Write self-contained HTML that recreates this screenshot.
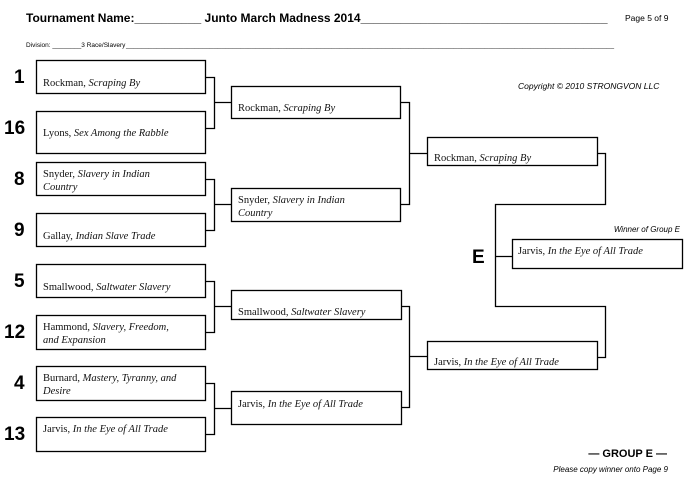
<!DOCTYPE html>
<html><head><meta charset="utf-8"><style>
body{margin:0;background:#fff;}
svg{display:block}
.t{font-family:"Liberation Serif",serif;font-size:10.5px;fill:#111}
.i{font-style:italic}
.s{font-family:"Liberation Sans",sans-serif;font-weight:bold;font-size:19px;fill:#000}
.h{font-family:"Liberation Sans",sans-serif;}
</style></head><body>
<svg width="697" height="489" viewBox="0 0 697 489" xmlns="http://www.w3.org/2000/svg">
<rect width="697" height="489" fill="#fff"/>
<text class="h" x="26" y="22" font-size="12" font-weight="bold">Tournament Name:__________ Junto March Madness 2014_____________________________________</text>
<text class="h" x="625" y="21" font-size="8.5">Page 5 of 9</text>
<text class="h" x="26" y="47" font-size="6.5">Division: ________3 Race/Slavery</text>
<text class="h" x="126" y="47" font-size="6.5" textLength="488" lengthAdjust="spacingAndGlyphs">________________________________________________________________________________________________________________________________</text>
<text class="h" x="518" y="89" font-size="8.5" font-style="italic">Copyright © 2010 STRONGVON LLC</text>
<g fill="none" stroke="#000" stroke-width="1.3">
<rect x="36.5" y="60.5" width="169" height="33"/>
<rect x="36.5" y="111.5" width="169" height="42"/>
<rect x="36.5" y="162.5" width="169" height="33"/>
<rect x="36.5" y="213.5" width="169" height="33"/>
<rect x="36.5" y="264.5" width="169" height="33"/>
<rect x="36.5" y="315.5" width="169" height="34"/>
<rect x="36.5" y="366.5" width="169" height="34"/>
<rect x="36.5" y="417.5" width="169" height="34"/>
<rect x="231.5" y="86.5" width="169" height="32"/>
<rect x="231.5" y="188.5" width="169" height="33"/>
<rect x="231.5" y="290.5" width="170" height="29"/>
<rect x="231.5" y="391.5" width="170" height="33"/>
<rect x="427.5" y="137.5" width="170" height="28"/>
<rect x="427.5" y="341.5" width="170" height="28"/>
<rect x="512.5" y="239.5" width="170" height="29"/>
<path d="M206 77.5H214.5V128.5H206M214.5 102.5H231"/>
<path d="M206 179.5H214.5V230.5H206M214.5 204.5H231"/>
<path d="M206 281.5H214.5V332.5H206M214.5 306.5H231"/>
<path d="M206 383.5H214.5V434.5H206M214.5 408.5H231"/>
<path d="M401 102.5H409.5V204.5H401M409.5 153.5H427"/>
<path d="M402 306.5H409.5V407.5H402M409.5 356.5H427"/>
<path d="M598 153.5H605.5V204.5H495.5V306.5H605.5V357.5H598M495.5 256.5H512"/>
</g>
<g class="s">
<text x="14" y="83">1</text><text x="4" y="134">16</text>
<text x="14" y="185">8</text><text x="14" y="236">9</text>
<text x="14" y="287">5</text><text x="4" y="338">12</text>
<text x="14" y="389">4</text><text x="4" y="440">13</text>
<text x="472" y="263">E</text>
</g>
<g class="t">
<text x="43" y="86">Rockman, <tspan class="i">Scraping By</tspan></text>
<text x="43" y="136">Lyons, <tspan class="i">Sex Among the Rabble</tspan></text>
<text x="43" y="177">Snyder, <tspan class="i">Slavery in Indian</tspan></text>
<text x="43" y="190" class="i">Country</text>
<text x="43" y="239">Gallay, <tspan class="i">Indian Slave Trade</tspan></text>
<text x="43" y="290">Smallwood, <tspan class="i">Saltwater Slavery</tspan></text>
<text x="43" y="330">Hammond, <tspan class="i">Slavery, Freedom,</tspan></text>
<text x="43" y="343" class="i">and Expansion</text>
<text x="43" y="381">Burnard, <tspan class="i">Mastery, Tyranny, and</tspan></text>
<text x="43" y="394" class="i">Desire</text>
<text x="43" y="432">Jarvis, <tspan class="i">In the Eye of All Trade</tspan></text>
<text x="238" y="111">Rockman, <tspan class="i">Scraping By</tspan></text>
<text x="238" y="203">Snyder, <tspan class="i">Slavery in Indian</tspan></text>
<text x="238" y="216" class="i">Country</text>
<text x="238" y="315">Smallwood, <tspan class="i">Saltwater Slavery</tspan></text>
<text x="238" y="407">Jarvis, <tspan class="i">In the Eye of All Trade</tspan></text>
<text x="434" y="161">Rockman, <tspan class="i">Scraping By</tspan></text>
<text x="434" y="365">Jarvis, <tspan class="i">In the Eye of All Trade</tspan></text>
<text x="518" y="254">Jarvis, <tspan class="i">In the Eye of All Trade</tspan></text>
</g>
<text class="h" x="680" y="232" font-size="8" font-style="italic" text-anchor="end">Winner of Group E</text>
<text class="h" x="667" y="457" font-size="11" font-weight="bold" text-anchor="end">— GROUP E —</text>
<text class="h" x="668" y="472" font-size="8" font-style="italic" text-anchor="end">Please copy winner onto Page 9</text>
</svg>
</body></html>
